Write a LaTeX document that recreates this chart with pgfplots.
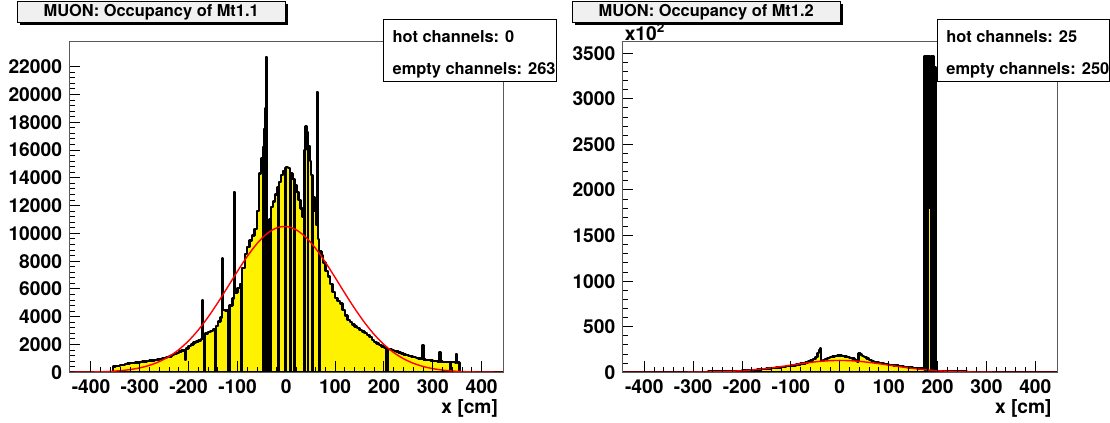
\documentclass[border=0pt]{standalone}
\usepackage{fontspec}
\setmainfont{TeX Gyre Heros}
\usepackage{pgfplots}
\pgfplotsset{compat=1.18}
\definecolor{titlegray}{RGB}{240,240,240}
\definecolor{framegray}{RGB}{90,90,90}
\newcommand\tickfont{\fontsize{9.6}{11}\selectfont\bfseries}
\newcommand\boxfont{\fontsize{8.2}{10}\selectfont\bfseries}

\pgfplotsset{
  rootaxis/.style={
    scale only axis, width=217.3pt, height=165.3pt,
    xmin=-445, xmax=445, ymin=0,
    xtick={-400,-300,...,400},
    xticklabels={-400,-300,-200,-100,0,100,200,300,400},
    minor x tick num=4, minor y tick num=4,
    xtick pos=bottom, ytick pos=left, tick align=inside,
    major tick length=5.5pt, minor tick length=2.75pt,
    tick style={black, line width=0.5pt},
    axis line style={line width=0.5pt, framegray},
    ticklabel style={font=\tickfont},
    scaled ticks=false, axis on top,
    /pgf/number format/assume math mode=true,
  },
  hist/.style={const plot mark left, fill=yellow, draw=black, line width=1.2pt, line join=round},
  fit/.style={red, line width=0.7pt, smooth},
}

\begin{document}
\begin{tikzpicture}
\path[use as bounding box] (0,0) rectangle (555pt,211.5pt);

% ---------------- Mt1.1 ----------------
\begin{axis}[rootaxis, at={(34.5pt,25.35pt)}, anchor=south west,
  ymax=23800,
  ytick={0,2000,4000,6000,8000,10000,12000,14000,16000,18000,20000,22000},
  yticklabels={0,2000,4000,6000,8000,10000,12000,14000,16000,18000,20000,22000}]
\addplot[hist] coordinates {
(-445,0) (-355,420) (-350,470) (-345,455) (-340,510) (-335,540) (-330,610) (-325,640)
(-320,655) (-315,690) (-310,700) (-305,705) (-300,745) (-295,770) (-290,780) (-285,810)
(-280,835) (-275,860) (-270,870) (-265,915) (-260,950) (-255,985) (-250,1040) (-245,1090)
(-240,1150) (-235,1240) (-230,1330) (-225,1400) (-220,1490) (-215,1560) (-210,1600) (-208,900)
(-206,1720) (-200,1880) (-195,2010) (-190,2140) (-185,2230) (-180,2280) (-175,2400) (-172,5200)
(-170,2700) (-168,0) (-166,2800) (-160,2900) (-155,2980) (-150,3080) (-146,0) (-144,3350)
(-140,3650) (-135,3950) (-132,8200) (-130,4500) (-125,4450) (-120,4300) (-118,0) (-116,4800)
(-110,5300) (-107,13000) (-105,5750) (-100,6050) (-95,6350) (-93,0) (-91,7500) (-85,8500)
(-80,9000) (-75,9500) (-70,9850) (-65,10300) (-60,11600) (-56,14300) (-52,15400) (-48,16200)
(-47,0) (-46,17500) (-45,0) (-44,19000) (-43,0) (-42,20600) (-41,22700) (-40,0)
(-37,10500) (-36,0) (-34,11000) (-33,0) (-31,11900) (-27,12300) (-23,12800) (-19,13300)
(-16,0) (-15,13700) (-11,14200) (-7,14500) (-3,14700) (-2,0) (-1,14800) (3,14700)
(7,14500) (8,0) (9,14300) (13,13900) (17,0) (18,13500) (21,13000) (25,12400)
(29,11800) (33,11200) (36,0) (37,16000) (39,17700) (42,17300) (44,0) (45,16300)
(48,15200) (51,14200) (54,0) (55,12600) (58,11600) (61,10600) (63,20200) (65,9600)
(67,0) (69,8700) (72,8400) (75,7900) (80,7300) (85,6900) (90,6350) (95,5800)
(100,5350) (105,5150) (110,4950) (115,4500) (120,4100) (125,3750) (130,3600) (135,3450)
(140,3300) (145,3180) (150,3050) (155,2950) (160,2850) (165,2700) (170,2520) (175,2330)
(180,2170) (185,2060) (190,1960) (195,1860) (200,1780) (205,0) (208,1680) (212,1650)
(216,1600) (220,1550) (225,1490) (230,1430) (235,1360) (240,1290) (245,1230) (250,1190)
(255,1140) (260,1090) (265,1040) (270,1000) (275,960) (279,1970) (281,930) (285,900)
(290,870) (295,850) (300,830) (305,810) (310,790) (314,1450) (316,780) (320,760)
(325,750) (330,740) (335,0) (336,730) (340,720) (345,710) (348,1300) (350,700)
(355,0) (445,0)
} \closedcycle;
% gaussian fit
\addplot[fit] coordinates {
(-445,4.5) (-420,10.6) (-400,20) (-380,37.5) (-360,67) (-340,117) (-320,196) (-300,320)
(-280,504) (-260,771) (-240,1141) (-220,1635) (-200,2271) (-180,3054) (-160,3981) (-140,5023)
(-120,6142) (-100,7272) (-80,8341) (-60,9266) (-40,9972) (-20,10393) (0,10493) (20,10262)
(40,9720) (60,8919) (80,7925) (100,6823) (120,5689) (140,4595) (160,3594) (180,2724)
(200,1999) (220,1421) (240,979) (260,653) (280,422) (300,264) (320,160) (340,94)
(360,53) (380,29) (400,16) (420,8) (445,3)
};
\end{axis}

% ---------------- Mt1.2 ----------------
\begin{axis}[rootaxis, at={(311.15pt,25.35pt)}, anchor=south west,
  width=217.5pt, ymax=3627,
  ytick={0,500,1000,1500,2000,2500,3000,3500},
  yticklabels={0,500,1000,1500,2000,2500,3000,3500}]
\addplot[hist] coordinates {
(-445,0) (-350,3) (-320,4) (-300,5) (-270,7) (-250,10) (-230,13) (-210,17)
(-200,20) (-190,24) (-180,28) (-170,31) (-160,35) (-150,40) (-140,45) (-130,51)
(-120,58) (-110,66) (-100,75) (-90,85) (-80,95) (-70,108) (-65,118) (-60,128)
(-55,145) (-50,170) (-46,210) (-43,245) (-41,263) (-39,130) (-36,125) (-33,135)
(-30,145) (-25,158) (-20,168) (-15,175) (-10,180) (-5,183) (0,183) (5,180)
(10,175) (15,168) (20,160) (25,150) (30,135) (35,120) (38,208) (42,195)
(46,180) (50,165) (55,150) (60,135) (65,125) (70,115) (80,102) (90,92)
(100,82) (110,74) (120,67) (130,60) (140,54) (150,48) (160,42) (170,36)
(173.5,3470) (174.5,0) (175,3470) (176,0) (176.5,3470) (177.5,0) (178,3470) (179,0)
(179.5,3470) (180.5,0) (181,3470) (182,2770) (183,3470) (183.5,1800) (186.5,3470) (187.5,0)
(188,3470) (189,0) (189.5,3470) (190.5,0) (191,3470) (192,3350) (193,0) (193.5,3350)
(194.5,0) (195,3350) (196,2170) (197,0) (198,12) (210,9)
(230,7) (260,5) (300,3) (340,2) (360,0) (445,0)
} \closedcycle;
% gaussian fit
\addplot[fit] coordinates {
(-445,0) (-400,0.04) (-360,0.2) (-320,0.8) (-280,2.6) (-240,7.3) (-200,17.6) (-180,25.7)
(-160,36.1) (-140,48.8) (-120,63.3) (-100,78.8) (-80,94.4) (-60,108.6) (-40,120) (-20,127.4)
(0,130) (20,127.4) (40,120) (60,108.6) (80,94.4) (100,78.8) (120,63.3) (140,48.8)
(160,36.1) (180,25.7) (200,17.6) (240,7.3) (280,2.6) (320,0.8) (360,0.2) (400,0.04) (445,0)
};
\end{axis}

% axis titles
\node[anchor=east, inner sep=0, font=\tickfont] at (249.15pt,7.35pt) {x [cm]};
\node[anchor=east, inner sep=0, font=\tickfont] at (526pt,7.35pt) {x [cm]};
\node[anchor=base west, inner sep=0, font=\tickfont] at (312.2pt,191pt)
  {x10\raisebox{0.42em}{\fontsize{6.8}{7}\selectfont 2}};

% histogram title boxes
\foreach \dx/\name in {0pt/Mt1.1, 277.5pt/Mt1.2}{
  \begin{scope}[xshift=\dx]
    \fill[black] (9.95pt,198.85pt) rectangle (143.8pt,209.35pt);
    \filldraw[fill=titlegray, draw=black, line width=0.5pt] (8.65pt,200.15pt) rectangle (142.5pt,210.65pt);
    \node[font=\boxfont, inner sep=0] at (75.6pt,205.4pt) {MUON: Occupancy of \name};
  \end{scope}
}

% statistics boxes
\filldraw[fill=white, draw=black, line width=0.5pt] (191.65pt,170.65pt) rectangle (278pt,201.5pt);
\node[anchor=west, inner sep=0, font=\boxfont] at (196.15pt,193.15pt) {hot channels: 0};
\node[anchor=west, inner sep=0, font=\boxfont] at (196.15pt,176.5pt) {empty channels: 263};
\filldraw[fill=white, draw=black, line width=0.5pt] (468.65pt,170.65pt) rectangle (554.6pt,201.5pt);
\node[anchor=west, inner sep=0, font=\boxfont] at (473pt,193.15pt) {hot channels: 25};
\node[anchor=west, inner sep=0, font=\boxfont] at (473pt,176.5pt) {empty channels: 250};
\end{tikzpicture}
\end{document}
